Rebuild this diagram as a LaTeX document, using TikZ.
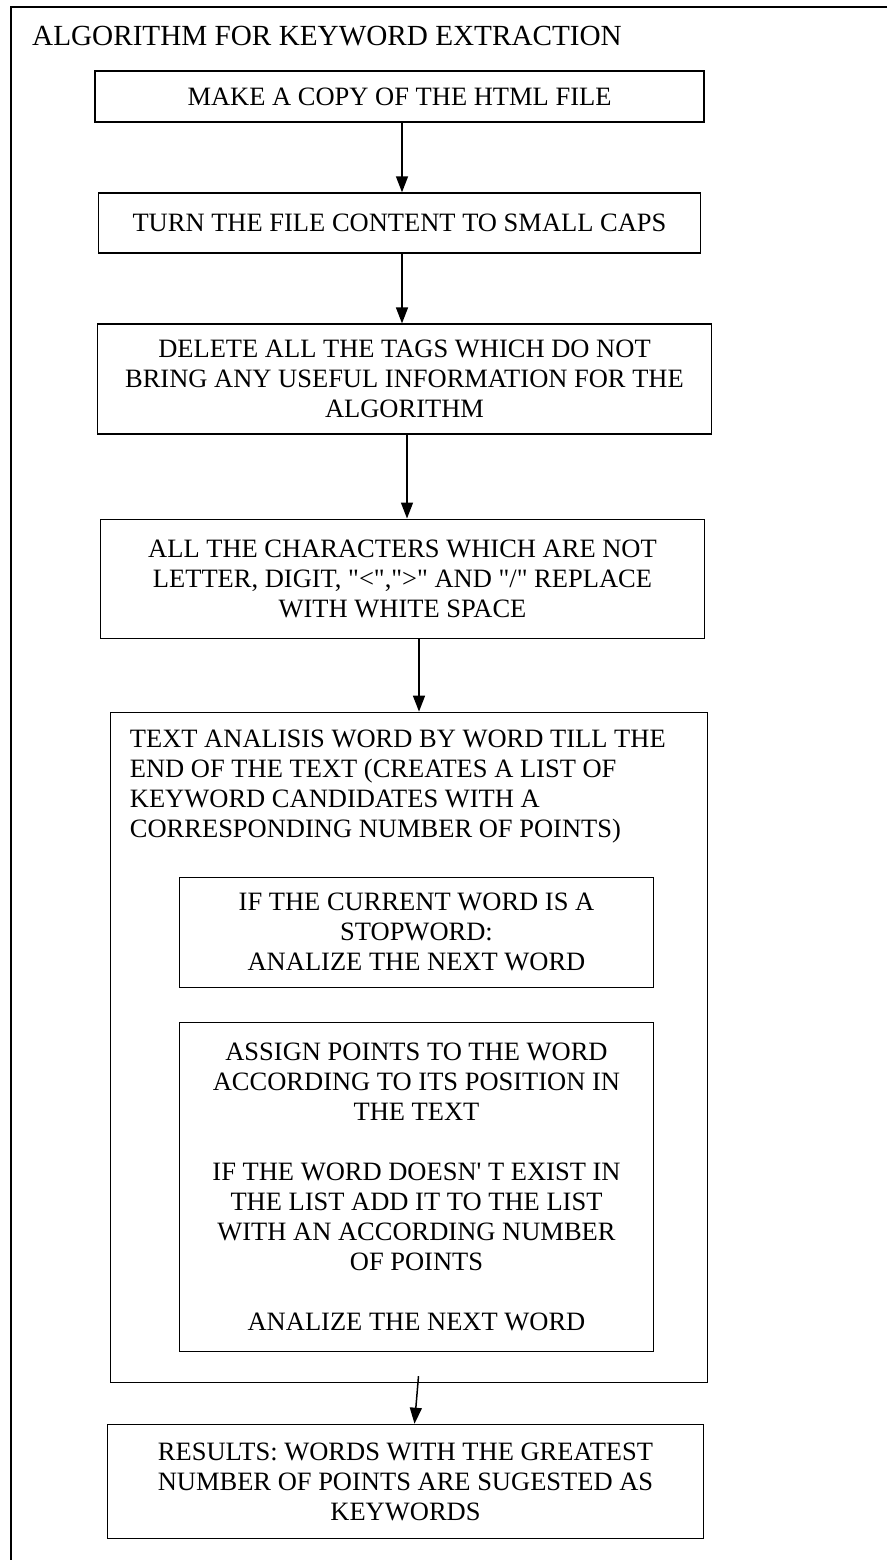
\documentclass[tikz,border=0pt]{standalone}
\usepackage{fontspec}
\setmainfont{Liberation Serif}[Ligatures=TeXOff]
\usepackage{tikz}
\usetikzlibrary{arrows.meta,positioning}
\definecolor{ink}{HTML}{000000}

\begin{document}
\begin{tikzpicture}[
  x=1pt, y=-1pt,
  font=\fontsize{26.5}{30}\selectfont,
  every node/.style={align=center},
  blk/.style={draw=ink, line width=1.6pt, inner sep=0pt},
  inr/.style={blk, minimum width=474pt},
  arr/.style={-{Triangle[length=16pt, width=12pt]}, line width=1.5pt, draw=ink},
  frm/.style={draw=ink, line width=2pt},
]
\useasboundingbox (0,0) rectangle (887,1560);
\draw[frm] (887,7) -| (11,1560);
\node[anchor=base west, inner sep=0pt, font=\fontsize{29.2}{33}\selectfont] (ttl) at (32,46) {ALGORITHM FOR KEYWORD EXTRACTION};

\node[blk, minimum width=609pt, minimum height=51pt] (copy) at (399.5,96.5) {MAKE A COPY OF THE HTML FILE};
\node[blk, minimum width=602pt, minimum height=60pt, below=69.5pt of copy] (caps) {TURN THE FILE CONTENT TO SMALL CAPS};
\node[blk, minimum width=614pt, minimum height=110pt, below=69.5pt of caps, xshift=5pt] (tags) {DELETE ALL THE TAGS WHICH DO NOT\\BRING ANY USEFUL INFORMATION FOR THE\\ALGORITHM};
\node[blk, minimum width=604pt, minimum height=119pt, below=83.5pt of tags, xshift=-2pt] (chars) {ALL THE CHARACTERS WHICH ARE NOT\\LETTER, DIGIT, "<",">" AND "/" REPLACE\\WITH WHITE SPACE};
\node[blk, minimum width=597pt, minimum height=670pt, below=72.5pt of chars, xshift=6.5pt] (ana) {};
\node[anchor=north west, inner sep=0pt, align=left] (anahd) at ([xshift=20pt, yshift=-18pt]ana.north west) {TEXT ANALISIS WORD BY WORD TILL THE\\END OF THE TEXT (CREATES A LIST OF\\KEYWORD CANDIDATES WITH A\\CORRESPONDING NUMBER OF POINTS)};
\node[inr, minimum height=110pt, below=165pt of ana.north, xshift=7.5pt] (stop) {IF THE CURRENT WORD IS A\\STOPWORD:\\ANALIZE THE NEXT WORD};
\node[inr, minimum height=329pt, below=33.5pt of stop] (pts) {ASSIGN POINTS TO THE WORD\\ACCORDING TO ITS POSITION IN\\THE TEXT\\[30pt]IF THE WORD DOESN' T EXIST IN\\THE LIST ADD IT TO THE LIST\\WITH AN ACCORDING NUMBER\\OF POINTS\\[30pt]ANALIZE THE NEXT WORD};
\node[blk, minimum width=596pt, minimum height=114pt, below=40.5pt of ana, xshift=-3.5pt] (res) {RESULTS: WORDS WITH THE GREATEST\\NUMBER OF POINTS ARE SUGESTED AS\\KEYWORDS};

\coordinate (tail) at ([xshift=9.5pt, yshift=7pt]ana.south);
\draw[arr] ([xshift=2.5pt]copy.south) -- ([xshift=2.5pt]copy.south |- caps.north);
\draw[arr] ([xshift=2.5pt]caps.south) -- ([xshift=2.5pt]caps.south |- tags.north);
\draw[arr] ([xshift=2.5pt]tags.south) -- ([xshift=2.5pt]tags.south |- chars.north);
\draw[arr] ([xshift=16.5pt]chars.south) -- ([xshift=16.5pt]chars.south |- ana.north);
\draw[arr] (tail) -- ([xshift=9pt]res.north);
\end{tikzpicture}
\end{document}
